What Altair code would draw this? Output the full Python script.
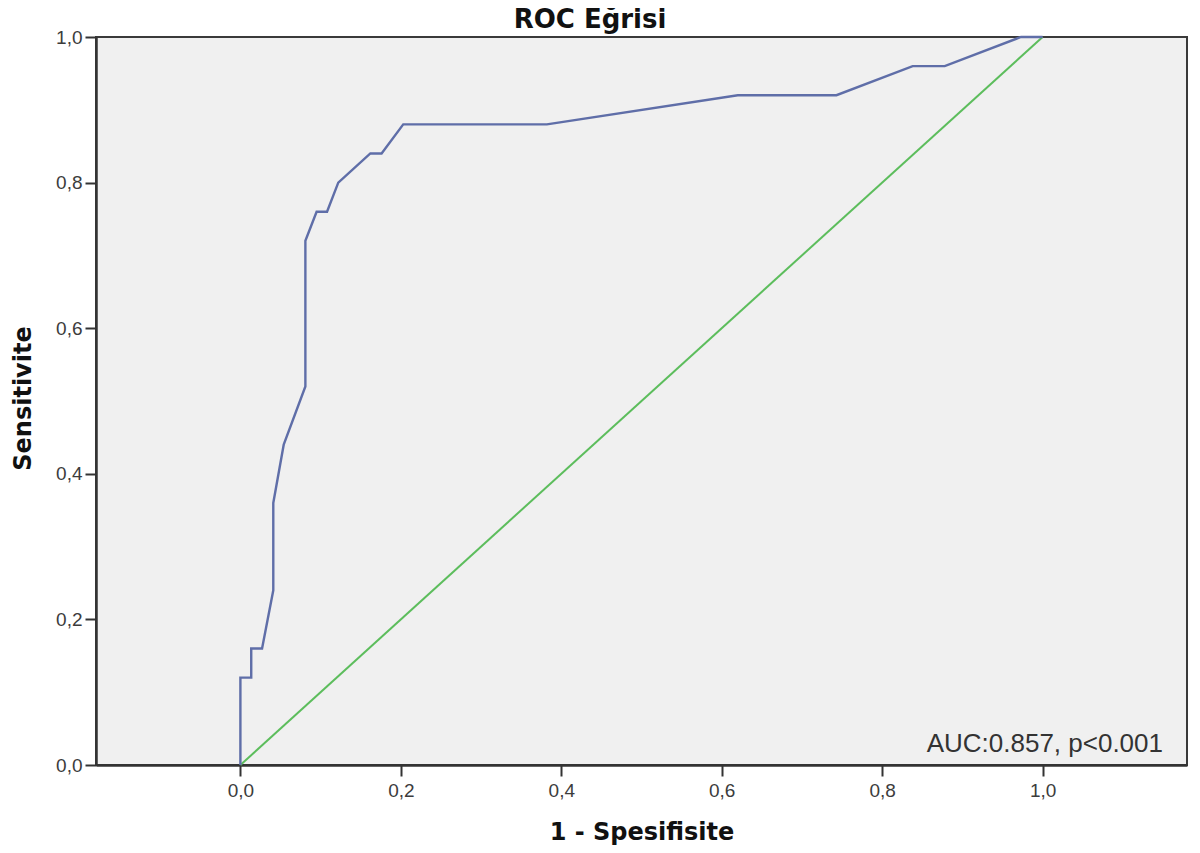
import altair as alt
import pandas as pd

# ROC curve points (1 - specificity, sensitivity)
fpr = [0.0, 0.0, 0.0135, 0.0135, 0.027, 0.041, 0.041, 0.054, 0.081, 0.081, 0.095,
       0.108, 0.122, 0.162, 0.176, 0.203, 0.382, 0.620, 0.743, 0.838, 0.878, 0.973, 1.0]
sens = [0.0, 0.12, 0.12, 0.16, 0.16, 0.24, 0.36, 0.44, 0.52, 0.72, 0.76,
        0.76, 0.80, 0.84, 0.84, 0.88, 0.88, 0.92, 0.92, 0.96, 0.96, 1.0, 1.0]

ref_x = [0.0, 1.0]
ref_y = [0.0, 1.0]

tick_values = [0.0, 0.2, 0.4, 0.6, 0.8, 1.0]
annotation = ["AUC:0.857, p<0.001"]
chart_title = ["ROC Eğrisi"]

roc_df = pd.DataFrame({"fpr": fpr, "sens": sens, "order": list(range(len(fpr)))})
ref_df = pd.DataFrame({"fpr": ref_x, "sens": ref_y, "order": [0, 1]})
ann_df = pd.DataFrame({"text": annotation})
title_df = pd.DataFrame({"text": chart_title})

label_expr = "replace(format(datum.value, '.1f'), '.', ',')"

x_scale = alt.Scale(domain=[-0.18, 1.18], nice=False, zero=False)
y_scale = alt.Scale(domain=[0, 1], nice=False)

x_axis = alt.Axis(
    title="1 - Spesifisite", values=tick_values, labelExpr=label_expr,
    titleY=74, titleBaseline="alphabetic", labelPadding=5,
)
y_axis = alt.Axis(
    title="Sensitivite", values=tick_values, labelExpr=label_expr,
    titleX=-65.5, titleY=361, titleBaseline="alphabetic", titleAngle=270,
    labelPadding=3,
)

ref_line = alt.Chart(ref_df).mark_line(color="#5cbd5c", strokeWidth=2).encode(
    x=alt.X("fpr:Q", scale=x_scale, axis=x_axis),
    y=alt.Y("sens:Q", scale=y_scale, axis=y_axis),
    order="order:Q",
)

roc_line = alt.Chart(roc_df).mark_line(color="#5f6ea8", strokeWidth=2.4).encode(
    x=alt.X("fpr:Q", scale=x_scale),
    y=alt.Y("sens:Q", scale=y_scale),
    order="order:Q",
)

ann = alt.Chart(ann_df).mark_text(
    align="right", baseline="alphabetic", font="Liberation Sans",
    fontSize=26, color="#333333",
).encode(
    x=alt.value(1067), y=alt.value(715), text="text:N"
)

title_mark = alt.Chart(title_df).mark_text(
    align="center", baseline="alphabetic", font="DejaVu Sans",
    fontSize=26, fontWeight="bold", color="#111111",
).encode(
    x=alt.value(494), y=alt.value(-9), text="text:N"
)

chart = alt.layer(ref_line, roc_line, ann, title_mark).properties(
    width=1091, height=728,
    padding={"left": 88, "top": 29, "right": 5, "bottom": 80},
    autosize=alt.AutoSizeParams(type="none"),
    background="white",
).configure_view(
    fill="#f0f0f0", stroke="#3a3a3a", strokeWidth=2,
).configure_axis(
    grid=False,
    domainColor="#333333", domainWidth=2.5,
    tickColor="#333333", tickWidth=2, tickSize=11,
    labelFont="Liberation Sans", labelFontSize=19, labelColor="#3c3c3c",
    titleFont="DejaVu Sans", titleFontSize=24, titleFontWeight="bold",
    titleColor="#111111",
)

chart.save("out.html", embed_options={"renderer": "svg", "actions": False})
